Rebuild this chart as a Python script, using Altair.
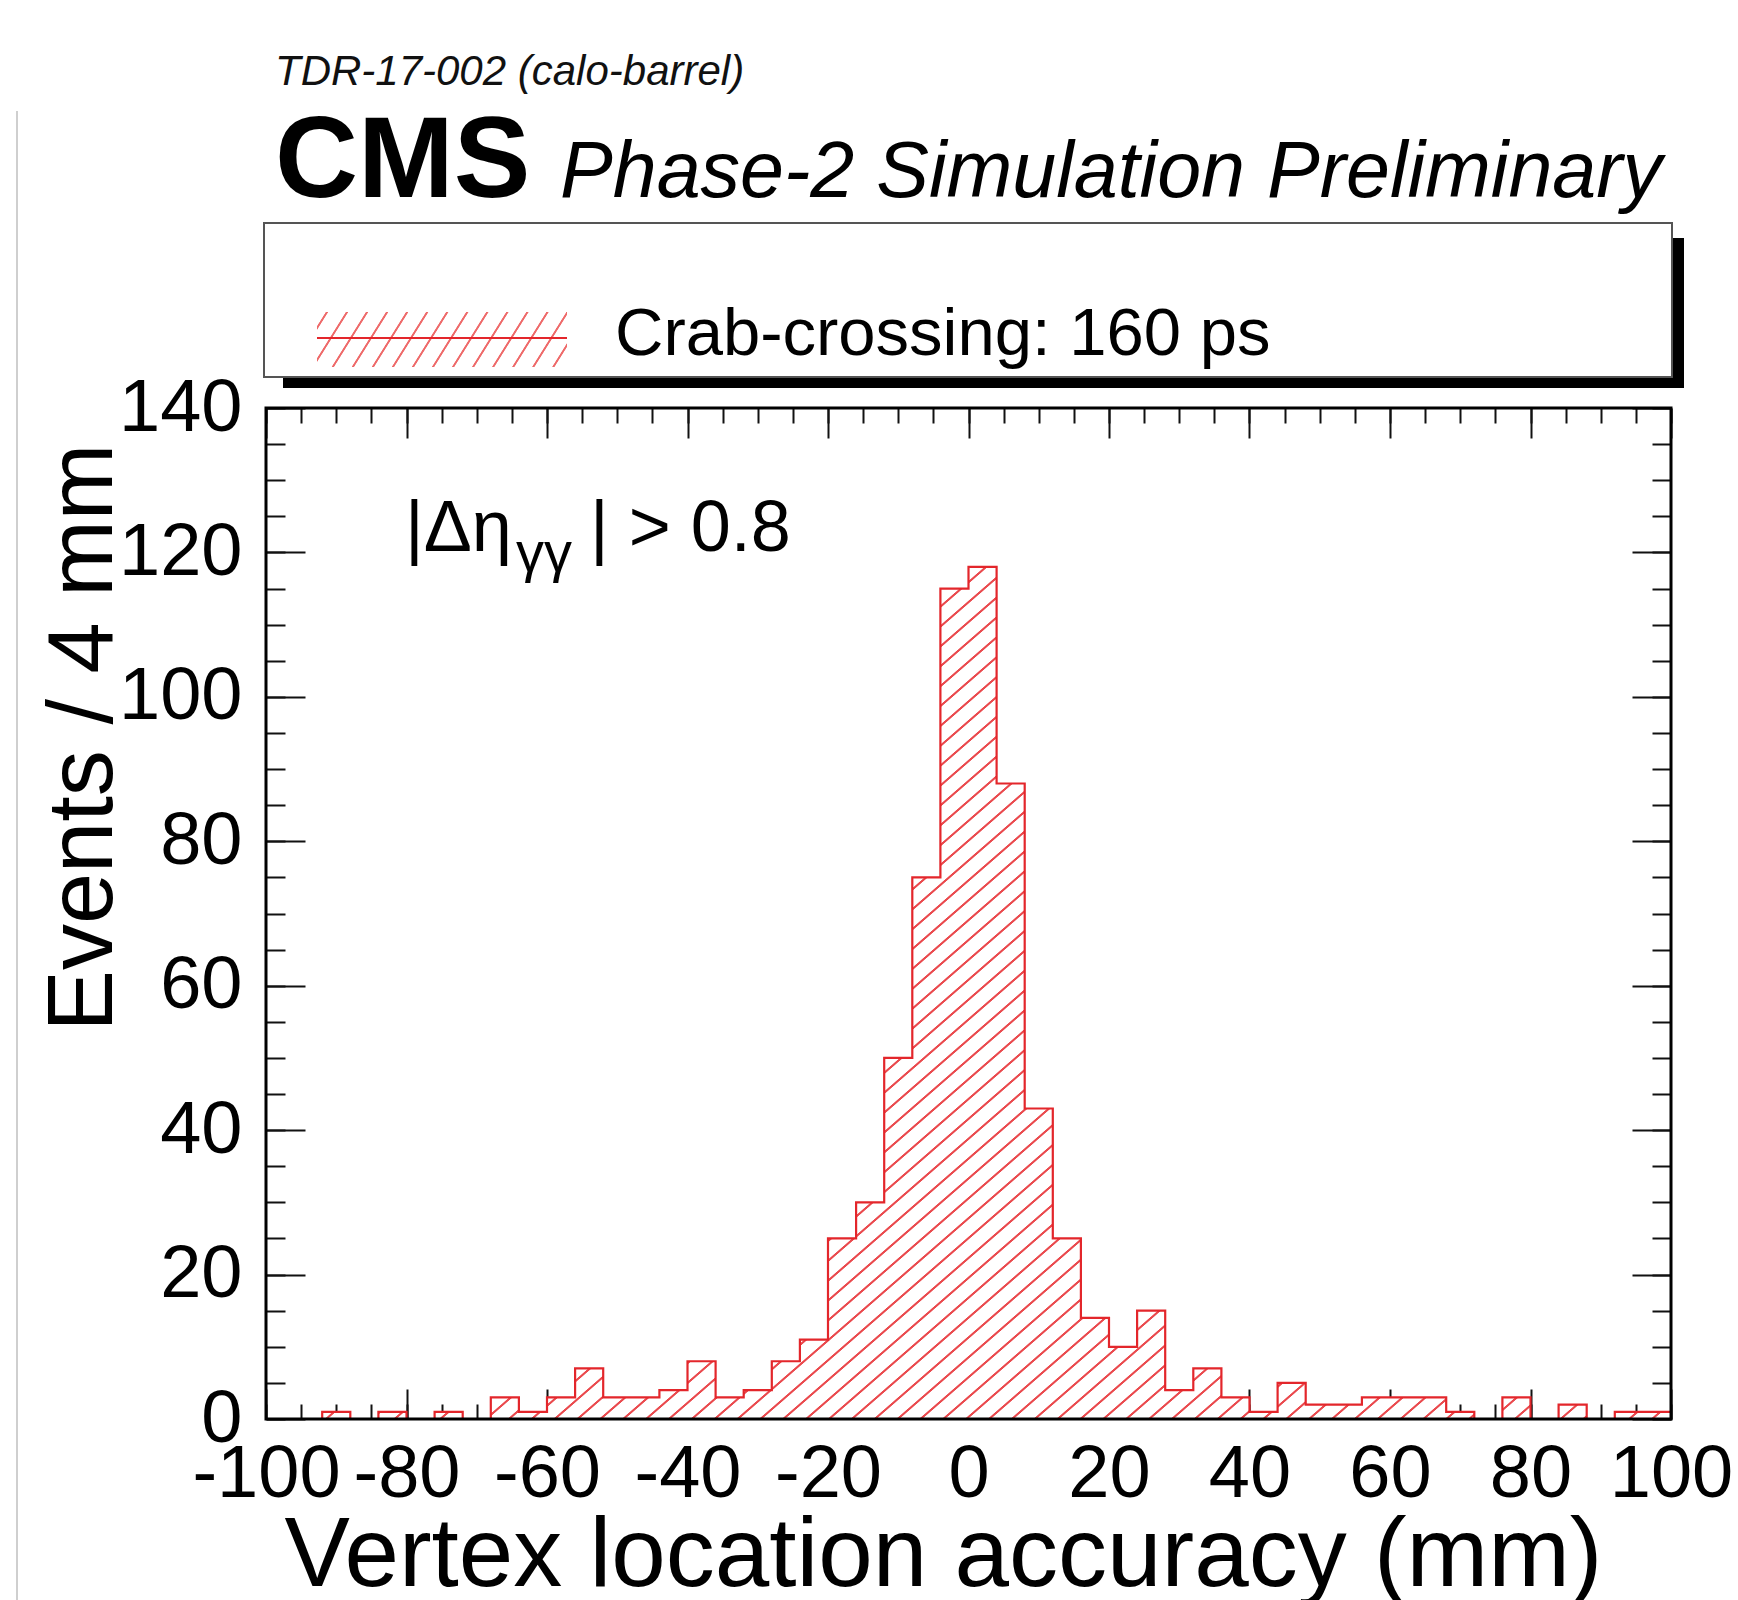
import math
import altair as alt
import pandas as pd

# ---------------- data ----------------
bin_width = 4
bin_low_edges = [-100, -96, -92, -88, -84, -80, -76, -72, -68, -64,
                 -60, -56, -52, -48, -44, -40, -36, -32, -28, -24,
                 -20, -16, -12, -8, -4, 0, 4, 8, 12, 16,
                 20, 24, 28, 32, 36, 40, 44, 48, 52, 56,
                 60, 64, 68, 72, 76, 80, 84, 88, 92, 96]
counts = [0, 0, 1, 0, 1, 0, 1, 0, 3, 1,
          3, 7, 3, 3, 4, 8, 3, 4, 8, 11,
          25, 30, 50, 75, 115, 118, 88, 43, 25, 14,
          10, 15, 4, 7, 3, 1, 5, 2, 2, 3,
          3, 3, 1, 0, 3, 0, 2, 0, 1, 1]
x_major = [-100, -80, -60, -40, -20, 0, 20, 40, 60, 80, 100]
x_minor = [-100 + 5 * i for i in range(41)]
y_major = [0, 20, 40, 60, 80, 100, 120, 140]
y_minor = [5 * i for i in range(29)]
x_domain = [-100, 100]
y_domain = [0, 140]

# step table built from the arrays
step_x = bin_low_edges + [bin_low_edges[-1] + bin_width]
step_y = counts + [counts[-1]]
hist_df = pd.DataFrame({"edge": step_x, "count": step_y})

# ---------------- layout ----------------
W, H = 1405, 1011
PAD = {"left": 266, "top": 408, "right": 67, "bottom": 181}
FONT = "Liberation Sans"
RED = "#e3262b"
HATCH = "#ea4a4e"
HYPHEN_LABEL = "datum.value < 0 ? '-' + abs(datum.value) : '' + datum.value"


def hatch_gradient(w, h, angle_deg, spacing, lw, color):
    th = math.radians(angle_deg)
    a = w * math.sin(th)
    b = h * math.cos(th)
    L = a + b
    c = L / (a * a + b * b)
    soft = 0.7
    stops = [alt.GradientStop(color="white", offset=0)]
    n = int(L / spacing) + 1
    last = 0.0
    for i in range(n):
        s = (i + 0.5) * spacing
        for off, col in [(s - lw / 2 - soft, "white"), (s - lw / 2, color),
                         (s + lw / 2, color), (s + lw / 2 + soft, "white")]:
            o = off / L
            if last <= o <= 1:
                stops.append(alt.GradientStop(color=col, offset=round(o, 6)))
                last = round(o, 6)
    stops.append(alt.GradientStop(color="white", offset=1))
    return alt.LinearGradient(gradient="linear", stops=stops,
                              x1=0, y1=0, x2=c * a, y2=c * b)


area_h = max(counts) / y_domain[1] * H
area_fill = hatch_gradient(W, area_h, 41, 15, 1.4, HATCH)

xs = alt.Scale(domain=x_domain, nice=False, zero=False)
ys = alt.Scale(domain=y_domain, nice=False, zero=False)


def tick_axis(orient, offset, values, size):
    return alt.Axis(orient=orient, offset=offset, values=values, tickSize=size,
                    tickWidth=2, tickColor="#111", labels=False, domain=False,
                    grid=False, title=None)


base = alt.Chart(hist_df)

# hatched area + label axes
area = base.mark_area(interpolate="step-after", fill=area_fill, strokeWidth=0).encode(
    x=alt.X("edge:Q", scale=xs, axis=alt.Axis(
        orient="bottom", values=x_major, labelExpr=HYPHEN_LABEL, ticks=False, tickSize=0,
        domain=False, grid=False, labelFont=FONT, labelFontSize=74,
        labelColor="black", labelPadding=77, labelBaseline="alphabetic",
        labelAlign="center", labelOverlap=False, labelFlush=False, labelBound=False,
        title="Vertex location accuracy (mm)", titleFont=FONT, titleFontSize=98,
        titleFontWeight="normal", titleColor="black", titleAlign="right",
        titleBaseline="alphabetic", titleX=1336, titleY=166)),
    y=alt.Y("count:Q", scale=ys, axis=alt.Axis(
        orient="left", values=y_major, labelExpr=HYPHEN_LABEL, ticks=False, tickSize=0,
        domain=False, grid=False, labelFont=FONT, labelFontSize=74,
        labelColor="black", labelPadding=24, labelAlign="right",
        labelBaseline="middle", labelOverlap=False, labelFlush=False, labelBound=False,
        title="Events / 4 mm", titleFont=FONT, titleFontSize=92,
        titleFontWeight="normal", titleColor="black", titleAngle=270,
        titleAlign="right", titleBaseline="alphabetic", titleX=-155, titleY=35)),
)

outline = base.mark_line(interpolate="step-after", color=RED, strokeWidth=2.2).encode(
    x=alt.X("edge:Q", scale=xs, axis=tick_axis("top", -H, x_major, 30)),
    y=alt.Y("count:Q", scale=ys, axis=tick_axis("right", -W, y_major, 39)),
)
ticks_b_minor = base.mark_line(strokeOpacity=0).encode(
    x=alt.X("edge:Q", scale=xs, axis=tick_axis("top", -H, x_minor, 15)),
    y=alt.Y("count:Q", scale=ys, axis=tick_axis("right", -W, y_minor, 19)),
)
ticks_t_major = base.mark_line(strokeOpacity=0).encode(
    x=alt.X("edge:Q", scale=xs, axis=tick_axis("bottom", -H, x_major, 30)),
    y=alt.Y("count:Q", scale=ys, axis=tick_axis("left", -W, y_major, 39)),
)
ticks_t_minor = base.mark_line(strokeOpacity=0).encode(
    x=alt.X("edge:Q", scale=xs, axis=tick_axis("bottom", -H, x_minor, 15)),
    y=alt.Y("count:Q", scale=ys, axis=tick_axis("left", -W, y_minor, 19)),
)

one = pd.DataFrame({"t": [""]})

frame = alt.Chart(one).mark_rect(fillOpacity=0, stroke="black", strokeWidth=3).encode(
    x=alt.value(0), x2=alt.value(W), y=alt.value(0), y2=alt.value(H))

edge_line = alt.Chart(one).mark_rule(color="#cfcfcf", strokeWidth=2).encode(
    x=alt.value(-249), y=alt.value(-297), y2=alt.value(1192))

# legend box with shadow
shadow = alt.Chart(one).mark_rect(color="black").encode(
    x=alt.value(17), x2=alt.value(1418), y=alt.value(-170), y2=alt.value(-20))
box = alt.Chart(one).mark_rect(fill="white", stroke="#555", strokeWidth=2).encode(
    x=alt.value(-2), x2=alt.value(1406), y=alt.value(-185), y2=alt.value(-31))
leg_fill = hatch_gradient(250, 55, 58, 17, 1.3, "#ee6a6a")
leg_sym = alt.Chart(one).mark_rect(fill=leg_fill, strokeWidth=0).encode(
    x=alt.value(51), x2=alt.value(301), y=alt.value(-96), y2=alt.value(-41))
leg_line = alt.Chart(one).mark_rule(color=RED, strokeWidth=2).encode(
    x=alt.value(51), x2=alt.value(301), y=alt.value(-70))


def text(label, x, y, size, style="normal", weight="normal", color="black"):
    return alt.Chart(pd.DataFrame({"t": [label]})).mark_text(
        font=FONT, fontSize=size, fontStyle=style, fontWeight=weight, color=color,
        align="left", baseline="alphabetic").encode(
        x=alt.value(x), y=alt.value(y), text="t:N")


t_ref = text("TDR-17-002 (calo-barrel)", 9, -323, 42, style="italic", color="#111")
t_cms = text("CMS", 9, -211, 115, weight="bold")
t_sim = text("Phase-2 Simulation Preliminary", 294, -211, 79, style="italic")
t_leg = text("Crab-crossing: 160 ps", 349, -53, 67)
t_cut1 = text("|\u0394\u03b7", 139, 143, 72)
t_cut2 = text("\u03b3\u03b3", 250, 163, 56)
t_cut3 = text("| > 0.8", 324, 143, 72)

chart = alt.layer(
    edge_line, shadow, box, leg_sym, leg_line,
    area, outline, ticks_b_minor, ticks_t_major, ticks_t_minor, frame,
    t_ref, t_cms, t_sim, t_leg, t_cut1, t_cut2, t_cut3,
).resolve_axis(x="independent", y="independent").properties(
    width=W, height=H, padding=PAD,
    autosize=alt.AutoSizeParams(type="none"),
).configure_view(stroke=None)

chart.save("out.html", embed_options={"renderer": "svg", "actions": False})
